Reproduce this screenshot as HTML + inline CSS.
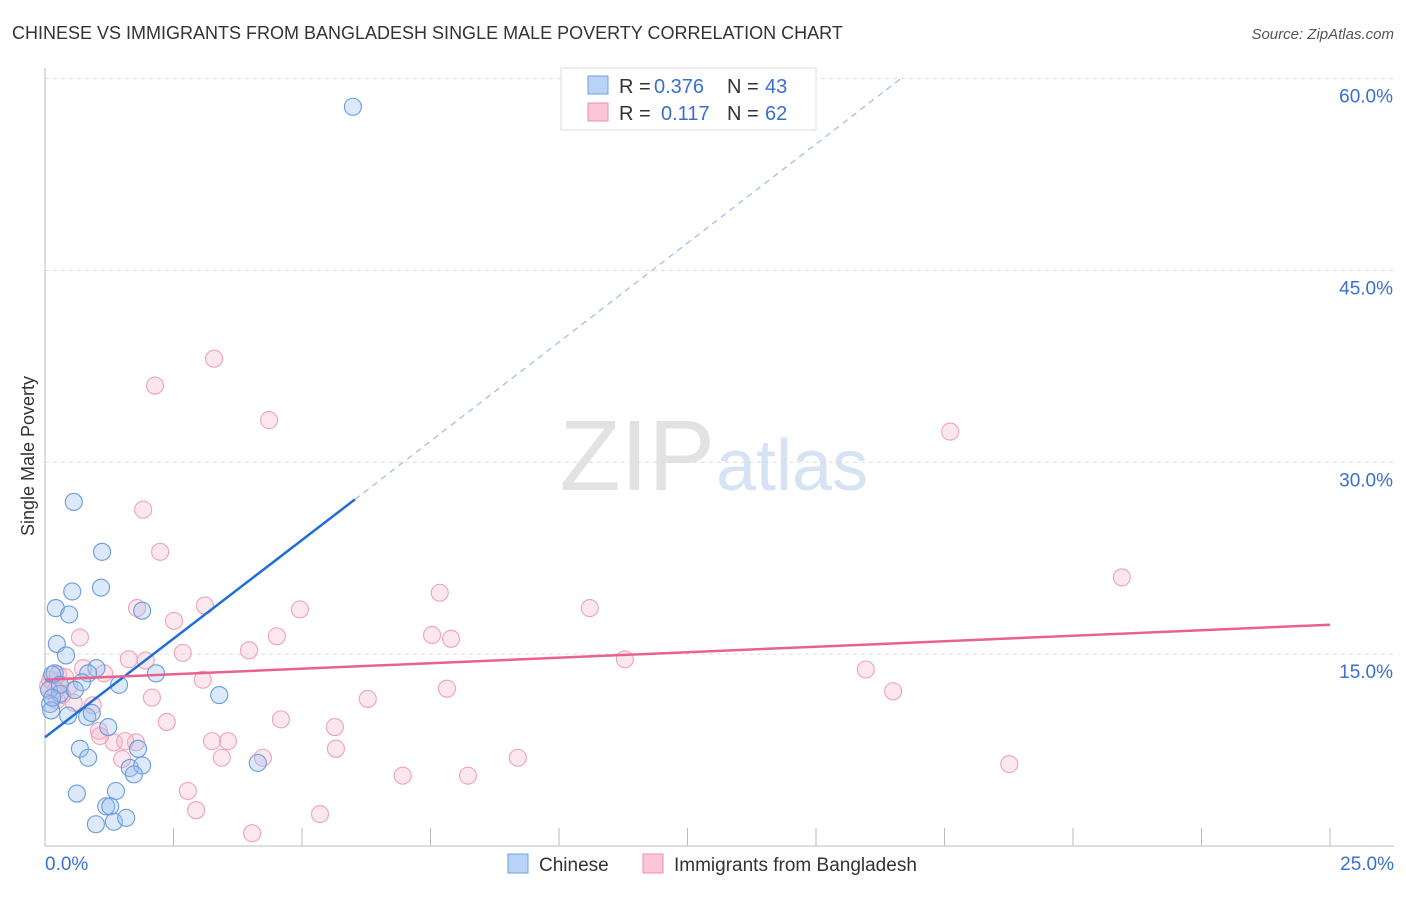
<!DOCTYPE html>
<html><head><meta charset="utf-8"><style>
body{margin:0;background:#fff;font-family:"Liberation Sans",sans-serif;}
svg text{font-family:"Liberation Sans",sans-serif;}
</style></head><body>
<svg id="chart" width="1406" height="892">
<text x="12" y="39" font-size="18" fill="#333">CHINESE VS IMMIGRANTS FROM BANGLADESH SINGLE MALE POVERTY CORRELATION CHART</text>
<text x="1394" y="39" font-size="15" fill="#555" font-style="italic" text-anchor="end">Source: ZipAtlas.com</text>
<text x="0" y="0" font-size="18" fill="#333" transform="translate(34,456) rotate(-90)" text-anchor="middle">Single Male Poverty</text>
<text x="715" y="490" font-size="100" fill="#e2e2e2" font-family="Liberation Serif" text-anchor="end">ZIP</text>
<text x="716" y="490" font-size="72" fill="#d6e3f5">atlas</text>
<g id="grid"></g><g id="axes"></g><g id="pts"></g><g id="lines"></g>
<g>
<rect x="561" y="68" width="255" height="62" fill="#fff" stroke="#ddd"/>
<rect x="588" y="76" width="20" height="18" fill="#b8d3f5" stroke="#6fa0e0"/>
<rect x="588" y="103" width="20" height="18" fill="#fcc6d6" stroke="#ec90ad"/>
<text x="619" y="93" font-size="20" fill="#333">R =</text>
<text x="654" y="93" font-size="20" fill="#3a6fd0">0.376</text>
<text x="727" y="93" font-size="20" fill="#333">N =</text>
<text x="765" y="93" font-size="20" fill="#3a6fd0">43</text>
<text x="619" y="120" font-size="20" fill="#333">R =</text>
<text x="661" y="120" font-size="20" fill="#3a6fd0">0.117</text>
<text x="727" y="120" font-size="20" fill="#333">N =</text>
<text x="765" y="120" font-size="20" fill="#3a6fd0">62</text>
</g>
<g>
<rect x="508" y="854" width="20" height="19" fill="#b8d3f5" stroke="#6fa0e0"/>
<text x="539" y="871" font-size="19" fill="#333">Chinese</text>
<rect x="643" y="854" width="20" height="19" fill="#fcc6d6" stroke="#ec90ad"/>
<text x="674" y="871" font-size="19" fill="#333">Immigrants from Bangladesh</text>
</g>
</svg>
<script>
const yTicks=[15,30,45,60];
const yTickLabels=["15.0%","30.0%","45.0%","60.0%"];
const xTicks=[0,2.5,5,7.5,10,12.5,15,17.5,20,22.5,25];
const chineseX=[5.99,0.56,1.11,0.53,1.09,0.21,0.47,1.89,0.23,0.41,1.0,0.84,0.19,0.72,0.14,1.44,2.16,0.08,0.29,3.39,0.1,0.12,0.45,0.82,0.91,1.23,0.68,1.81,0.84,4.14,1.65,1.89,1.73,0.62,1.38,1.19,1.27,0.99,1.34,1.58,0.29,0.14,0.58];
const chineseY=[57.8,26.9,23.0,19.9,20.2,18.6,18.1,18.4,15.8,14.9,13.9,13.5,13.5,12.8,13.4,12.6,13.5,12.2,11.9,11.8,11.1,10.6,10.2,10.1,10.4,9.3,7.6,7.6,6.9,6.5,6.1,6.3,5.6,4.1,4.3,3.1,3.1,1.7,1.9,2.2,12.6,11.6,12.2];
const bangX=[3.29,2.14,4.36,17.61,1.91,2.24,20.95,7.68,10.6,1.79,3.11,4.96,2.51,0.68,7.53,7.9,4.51,3.97,2.68,1.63,1.96,11.28,15.97,0.74,1.15,3.07,7.82,16.5,0.47,2.08,6.28,0.23,0.56,0.93,2.37,4.59,5.64,1.05,1.34,1.77,3.25,3.56,1.56,3.44,4.24,1.5,5.66,6.96,8.23,9.2,18.76,2.78,2.94,5.35,4.03,0.1,0.21,0.33,0.06,0.39,0.25,1.07];
const bangY=[38.1,36.0,33.3,32.4,26.3,23.0,21.0,19.8,18.6,18.6,18.8,18.5,17.6,16.3,16.5,16.2,16.4,15.3,15.1,14.6,14.5,14.6,13.8,13.9,13.5,13.0,12.3,12.1,12.5,11.6,11.5,11.4,11.2,11.0,9.7,9.9,9.3,9.0,8.1,8.1,8.2,8.2,8.2,6.9,6.9,6.8,7.6,5.5,5.5,6.9,6.4,4.3,2.8,2.5,1.0,13.0,12.2,11.8,12.5,13.2,13.4,8.6];
const X=v=>45+v*51.4, Y=v=>846-v*12.79;
const NS="http://www.w3.org/2000/svg";
function mk(tag,attrs,parent){const e=document.createElementNS(NS,tag);for(const k in attrs)e.setAttribute(k,attrs[k]);document.getElementById(parent).appendChild(e);return e;}
yTicks.forEach((t,i)=>{
 const g=mk('line',{x1:45,x2:1394,y1:Y(t),y2:Y(t),stroke:'#ddd','stroke-dasharray':'4,4'},'grid');
 
 
 const l=mk('text',{x:1393,y:Y(t)+24,'font-size':19,fill:'#3a6fd0','text-anchor':'end'},'axes');
 l.textContent=yTickLabels[i];
 
 
});
const ax=mk('line',{x1:45,x2:1394,y1:846,y2:846,stroke:'#bbb'},'axes');


const ay=mk('line',{x1:45,x2:45,y1:68,y2:846,stroke:'#bbb'},'axes');


xTicks.forEach(t=>{
 const e=mk('line',{x1:X(t),x2:X(t),y1:828,y2:846,stroke:'#bbb'},'axes');
 
 
});
const xl0=mk('text',{x:45,y:870,'font-size':19,fill:'#3a6fd0'},'axes');xl0.textContent='0.0%';


const xl1=mk('text',{x:1394,y:870,'font-size':19,fill:'#3a6fd0','text-anchor':'end'},'axes');xl1.textContent='25.0%';


bangX.forEach((x,i)=>{
 const c=mk('circle',{cx:X(x),cy:Y(bangY[i]),r:8.5,fill:'rgba(248,175,198,0.3)',stroke:'#eea2b9','stroke-width':1.1},'pts');
 
 
});
chineseX.forEach((x,i)=>{
 const c=mk('circle',{cx:X(x),cy:Y(chineseY[i]),r:8.5,fill:'rgba(155,192,240,0.35)',stroke:'#6a9bdc','stroke-width':1.1},'pts');
 
 
});
const bl=mk('line',{x1:X(0),y1:Y(8.5),x2:X(6.03),y2:Y(27.1),stroke:'#1f6fd6','stroke-width':2.5},'lines');


const bd=mk('line',{x1:X(6.03),y1:Y(27.1),x2:X(16.65),y2:Y(60),stroke:'#9bbbe4','stroke-width':1.2,'stroke-dasharray':'6,5'},'lines');


const pl=mk('line',{x1:X(0),y1:Y(13.0),x2:X(25),y2:Y(17.3),stroke:'#e8628e','stroke-width':2.5},'lines');


</script>
</body></html>
